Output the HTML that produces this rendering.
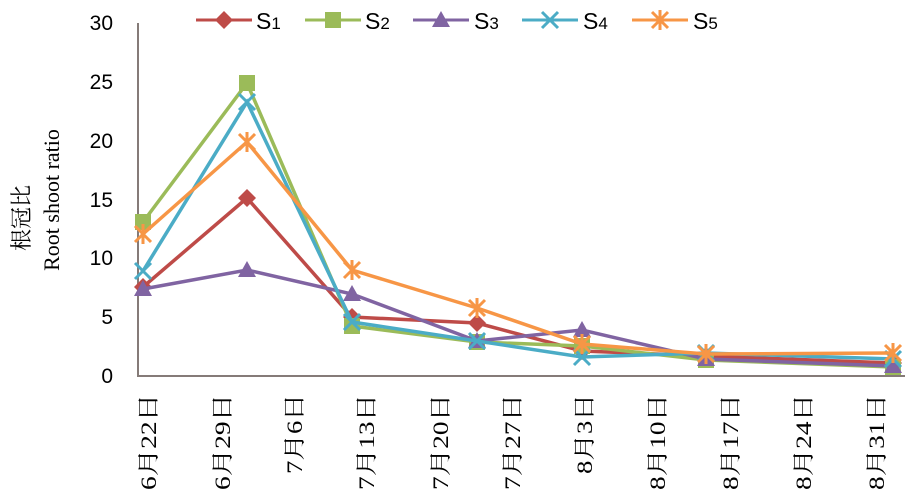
<!DOCTYPE html>
<html><head><meta charset="utf-8"><style>
body{margin:0;background:#fff;}
svg{display:block;}
</style></head><body>
<svg width="909" height="495" xmlns="http://www.w3.org/2000/svg" font-family="Liberation Sans, sans-serif">
<rect width="909" height="495" fill="#fff"/>
<g font-size="21" fill="#000" text-anchor="end">
<text x="113" y="30">30</text>
<text x="113" y="89">25</text>
<text x="113" y="148">20</text>
<text x="113" y="207">15</text>
<text x="113" y="265">10</text>
<text x="113" y="324">5</text>
<text x="113" y="383">0</text>
</g>
<text transform="translate(29,218) rotate(-90)" text-anchor="middle" font-size="22" font-family="Liberation Serif, Noto Serif CJK SC, serif">根冠比</text>
<text transform="translate(59,200) rotate(-90)" text-anchor="middle" font-size="22" font-family="Liberation Serif, serif">Root shoot ratio</text>
<line x1="138" y1="23" x2="138" y2="376" stroke="#857b78" stroke-width="2"/>
<line x1="137" y1="376" x2="905" y2="376" stroke="#857b78" stroke-width="2"/>
<g font-size="22" font-family="Liberation Serif, Noto Serif CJK SC, serif" text-anchor="end">
<text transform="translate(156,394) rotate(-90)" textLength="96" lengthAdjust="spacingAndGlyphs">6月22日</text>
<text transform="translate(230,394) rotate(-90)" textLength="96" lengthAdjust="spacingAndGlyphs">6月29日</text>
<text transform="translate(302,394) rotate(-90)" textLength="80" lengthAdjust="spacingAndGlyphs">7月6日</text>
<text transform="translate(374,394) rotate(-90)" textLength="96" lengthAdjust="spacingAndGlyphs">7月13日</text>
<text transform="translate(448,394) rotate(-90)" textLength="96" lengthAdjust="spacingAndGlyphs">7月20日</text>
<text transform="translate(520,394) rotate(-90)" textLength="96" lengthAdjust="spacingAndGlyphs">7月27日</text>
<text transform="translate(592,394) rotate(-90)" textLength="80" lengthAdjust="spacingAndGlyphs">8月3日</text>
<text transform="translate(665,394) rotate(-90)" textLength="96" lengthAdjust="spacingAndGlyphs">8月10日</text>
<text transform="translate(738,394) rotate(-90)" textLength="96" lengthAdjust="spacingAndGlyphs">8月17日</text>
<text transform="translate(811,394) rotate(-90)" textLength="96" lengthAdjust="spacingAndGlyphs">8月24日</text>
<text transform="translate(884,394) rotate(-90)" textLength="96" lengthAdjust="spacingAndGlyphs">8月31日</text>
</g>
<defs>
<g id="dia"><polygon points="0,-9 9,0 0,9 -9,0"/></g>
<g id="sq"><rect x="-8" y="-8" width="16" height="16"/></g>
<g id="tri"><polygon points="0,-9 9,7 -9,7"/></g>
<g id="x4"><path d="M-8,-8L8,8M-8,8L8,-8" stroke-width="3"/></g>
<g id="st"><path d="M-8,-8L8,8M-8,8L8,-8M0,-10V10" stroke-width="3"/></g>
</defs>
<polyline fill="none" stroke="#be4b48" stroke-width="3.5" points="143,287 247,198 352,317 477,323 582,351 706,356 893,363"/>
<g fill="#be4b48"><use href="#dia" x="143" y="287"/><use href="#dia" x="247" y="198"/><use href="#dia" x="352" y="317"/><use href="#dia" x="477" y="323"/><use href="#dia" x="582" y="351"/><use href="#dia" x="706" y="356"/><use href="#dia" x="893" y="363"/></g>
<polyline fill="none" stroke="#9bbb59" stroke-width="3.5" points="143,222 247,83 352,326 477,342 582,346 706,360 893,367"/>
<g fill="#9bbb59"><use href="#sq" x="143" y="222"/><use href="#sq" x="247" y="83"/><use href="#sq" x="352" y="326"/><use href="#sq" x="477" y="342"/><use href="#sq" x="582" y="346"/><use href="#sq" x="706" y="360"/><use href="#sq" x="893" y="367"/></g>
<polyline fill="none" stroke="#8064a2" stroke-width="3.5" points="143,289 247,270 352,294 477,341 582,330 706,359 893,366"/>
<g fill="#8064a2"><use href="#tri" x="143" y="289"/><use href="#tri" x="247" y="270"/><use href="#tri" x="352" y="294"/><use href="#tri" x="477" y="341"/><use href="#tri" x="582" y="330"/><use href="#tri" x="706" y="359"/><use href="#tri" x="893" y="366"/></g>
<polyline fill="none" stroke="#4bacc6" stroke-width="3.5" points="143,271 247,102 352,322 477,341 582,357 706,353 893,359"/>
<g stroke="#4bacc6"><use href="#x4" x="143" y="271"/><use href="#x4" x="247" y="102"/><use href="#x4" x="352" y="322"/><use href="#x4" x="477" y="341"/><use href="#x4" x="582" y="357"/><use href="#x4" x="706" y="353"/><use href="#x4" x="893" y="359"/></g>
<polyline fill="none" stroke="#f79646" stroke-width="3.5" points="143,234 247,142 352,270 477,308 582,344 706,354 893,353"/>
<g stroke="#f79646"><use href="#st" x="143" y="234"/><use href="#st" x="247" y="142"/><use href="#st" x="352" y="270"/><use href="#st" x="477" y="308"/><use href="#st" x="582" y="344"/><use href="#st" x="706" y="354"/><use href="#st" x="893" y="353"/></g>
<g font-size="23">
<line x1="196" y1="20" x2="252" y2="20" stroke="#be4b48" stroke-width="3"/><use href="#dia" x="224" y="20" fill="#be4b48"/>
<text x="256" y="29">S<tspan font-size="17">1</tspan></text>
<line x1="305" y1="20" x2="361" y2="20" stroke="#9bbb59" stroke-width="3"/><use href="#sq" x="333" y="20" fill="#9bbb59"/>
<text x="365" y="29">S<tspan font-size="17">2</tspan></text>
<line x1="413" y1="20" x2="469" y2="20" stroke="#8064a2" stroke-width="3"/><use href="#tri" x="441" y="20" fill="#8064a2"/>
<text x="474" y="29">S<tspan font-size="17">3</tspan></text>
<line x1="522" y1="20" x2="578" y2="20" stroke="#4bacc6" stroke-width="3"/><use href="#x4" x="550" y="20" stroke="#4bacc6"/>
<text x="583" y="29">S<tspan font-size="17">4</tspan></text>
<line x1="632" y1="20" x2="688" y2="20" stroke="#f79646" stroke-width="3"/><use href="#st" x="660" y="20" stroke="#f79646"/>
<text x="693" y="29">S<tspan font-size="17">5</tspan></text>
</g>
</svg>
</body></html>
